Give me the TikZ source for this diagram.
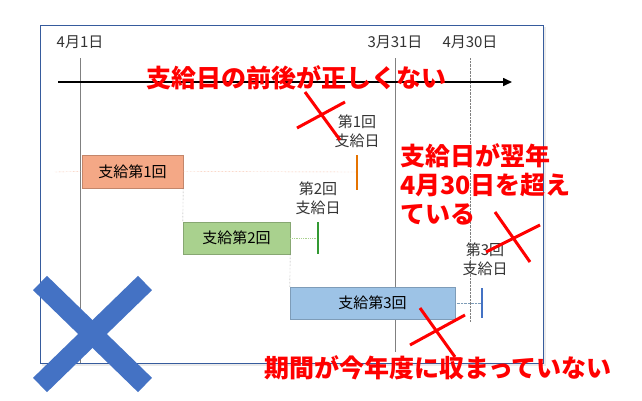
\documentclass[tikz,border=0pt]{standalone}
\usepackage{fontspec}
\newfontfamily\jp{Noto Sans CJK JP}
\usetikzlibrary{arrows.meta}
\definecolor{xblue}{HTML}{4472C4}
\definecolor{ored}{HTML}{F4A886}
\definecolor{gr}{HTML}{A9D18E}
\definecolor{bl}{HTML}{9DC3E6}
\begin{document}
\begin{tikzpicture}[x=1pt,y=-1pt,
  lbl/.style={font=\jp\fontsize{15}{19}\selectfont,text=black!80,inner sep=0pt,align=center},
  warn/.style={font=\jp\bfseries\fontsize{25}{29}\selectfont,text=red,inner sep=0pt,align=left},
  cross/.style={red,line width=3pt},
  bar/.style={draw=#1!80!black,fill=#1,line width=0.3pt,inner sep=0pt,font=\jp\fontsize{15}{18}\selectfont}]
\useasboundingbox (0,0) rectangle (642,400);
\fill[black!8] (42,27) rectangle (546,366);
\draw[xblue!80!black,fill=white,line width=0.6pt] (40,25) rectangle (543,363);
\node[lbl] (d1) at (80,42) {4月1日};
\node[lbl] (d2) at (395,42) {3月31日};
\node[lbl] (d3) at (470,42) {4月30日};
\coordinate (a1) at (80,58); \coordinate (a2) at (80,363);
\coordinate (b1) at (395,58); \coordinate (b2) at (395,352);
\coordinate (c1) at (470,58); \coordinate (c2) at (470,322);
\draw[gray] (a1)--(a2); \draw[gray] (b1)--(b2); \draw[gray,densely dotted] (c1)--(c2);
\coordinate (s) at (58,82); \coordinate (e) at (512,82);
\draw[line width=1.6pt,-{Triangle[length=9pt,width=8pt]}] (s)--(e);
\node[bar=ored,minimum width=101pt,minimum height=33pt] (p1) at (132.5,171.5) {支給第1回};
\node[bar=gr,minimum width=107pt,minimum height=32pt] (p2) at (236.5,238) {支給第2回};
\node[bar=bl,minimum width=165pt,minimum height=32pt] (p3) at (372.5,303) {支給第3回};
\coordinate (o1) at (55,172); \coordinate (o2) at (357,172);
\draw[ored,densely dotted] (o1)--(p1.west); \draw[ored,densely dotted] (p1.east)--(o2);
\draw[orange!90!black,line width=1.2pt] (357,155)--(357,190);
\draw[gray,densely dotted] (p1.south east)--(p2.north west);
\draw[gray,densely dotted] (p2.south east)--(p3.north west);
\coordinate (g2) at (318,238);
\draw[gr,densely dotted,line width=0.8pt] (p2.east)--(g2);
\draw[green!50!black!80,line width=1.2pt] (318,222)--(318,254);
\coordinate (k3) at (482,303);
\draw[bl!80!black,densely dotted] (p3.east)--(k3);
\draw[xblue,line width=1.2pt] (482,288)--(482,318);
\node[lbl] (t1) at (357,131) {第1回\\支給日};
\node[lbl] (t2) at (318,198) {第2回\\支給日};
\node[lbl] (t3) at (485,259) {第3回\\支給日};
\draw[cross] (305,92)--(340,140); \draw[cross] (297,128)--(345,102);
\draw[cross] (495,212)--(530,262); \draw[cross] (486,252)--(540,225);
\draw[cross] (420,308)--(455,357); \draw[cross] (410,345)--(465,315);
\node[warn] (w1) at (296,78) {支給日の前後が正しくない};
\node[warn,anchor=north west] (w2) at (400,143) {支給日が翌年\\4月30日を超え\\ている};
\node[warn] (w3) at (438,368) {期間が今年度に収まっていない};
\draw[xblue,line width=20pt] (40,283)--(145,385); \draw[xblue,line width=20pt] (145,283)--(40,385);
\end{tikzpicture}
\end{document}
